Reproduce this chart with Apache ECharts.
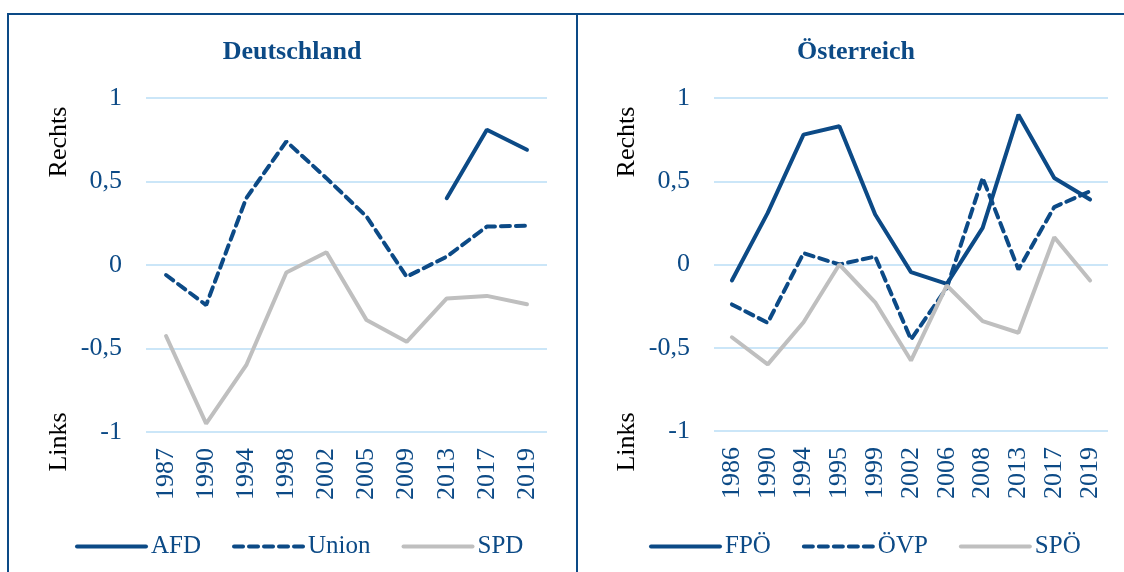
<!DOCTYPE html>
<html>
<head>
<meta charset="utf-8">
<script src="https://cdn.jsdelivr.net/npm/echarts@6/dist/echarts.min.js"></script>
<style>html,body{margin:0;padding:0;background:#fff}#c{width:1124px;height:572px}</style>
</head>
<body>
<div id="c"></div>
<script>
// Deutschland
const deYears = ['1987','1990','1994','1998','2002','2005','2009','2013','2017','2019'];
const deAFD   = [null, null, null, null, null, null, null, 0.40, 0.81, 0.69];
const deUnion = [-0.06, -0.24, 0.40, 0.74, 0.52, 0.29, -0.07, 0.05, 0.23, 0.235];
const deSPD   = [-0.425, -0.95, -0.60, -0.045, 0.076, -0.33, -0.46, -0.20, -0.185, -0.235];
// Österreich
const atYears = ['1986','1990','1994','1995','1999','2002','2006','2008','2013','2017','2019'];
const atFPO = [-0.096, 0.31, 0.78, 0.83, 0.30, -0.046, -0.116, 0.22, 0.90, 0.52, 0.39];
const atOVP = [-0.24, -0.35, 0.068, 0.0, 0.048, -0.45, -0.14, 0.52, -0.03, 0.345, 0.44];
const atSPO = [-0.437, -0.60, -0.347, 0.0, -0.227, -0.577, -0.126, -0.34, -0.41, 0.164, -0.096];
const yTicks = [-1, -0.5, 0, 0.5, 1];

const BLUE = '#0C4A86';
const GRAY = '#BFBFBF';
const GRID = '#CBE6F8';
const FONT = 'Liberation Serif';

const chart = echarts.init(document.getElementById('c'));

function xAxis(idx, data) {
  return {
    type: 'category', gridIndex: idx, data: data, boundaryGap: true,
    axisLine: {show: false}, axisTick: {show: false},
    axisLabel: {rotate: 90, color: BLUE, fontFamily: FONT, fontSize: 26, margin: 16, interval: 0}
  };
}
function yAxis(idx) {
  return {
    type: 'value', gridIndex: idx, min: -1, max: 1, interval: 0.5,
    axisLine: {show: false}, axisTick: {show: false},
    splitLine: {lineStyle: {color: GRID, width: 2}},
    axisLabel: {color: BLUE, fontFamily: FONT, fontSize: 26, margin: 24,
      formatter: v => (yTicks.indexOf(v) >= 0 ? String(v).replace('.', ',') : '')}
  };
}
function line(name, data, idx, color, dashed) {
  return {
    name: name, type: 'line', data: data, xAxisIndex: idx, yAxisIndex: idx,
    symbol: 'none', connectNulls: false, smooth: false,
    lineStyle: {color: color, width: 4, type: dashed ? [9, 6] : 'solid', cap: 'round'},
    itemStyle: {color: color}, emphasis: {disabled: true}
  };
}
function vtext(x, y, t) {
  return {type: 'text', x: x, y: y, rotation: Math.PI / 2,
    style: {text: t, fill: '#000', font: '26px "Liberation Serif"', align: 'center', verticalAlign: 'middle'}};
}
function hline(x1, y1, x2, y2) {
  return {type: 'line', shape: {x1: x1, y1: y1, x2: x2, y2: y2}, style: {stroke: BLUE, lineWidth: 2}};
}
const legendBase = {
  orient: 'horizontal', itemWidth: 69, itemHeight: 14, itemGap: 31,
  itemStyle: {opacity: 0},
  lineStyle: {width: 4, cap: 'round'},
  textStyle: {color: BLUE, fontFamily: FONT, fontSize: 25},
  top: 529
};

chart.setOption({
  animation: false,
  title: [
    {text: 'Deutschland', left: 287, top: 34, textAlign: 'center',
      textStyle: {color: BLUE, fontFamily: FONT, fontSize: 26, fontWeight: 'bold'}},
    {text: 'Österreich', left: 851, top: 34, textAlign: 'center',
      textStyle: {color: BLUE, fontFamily: FONT, fontSize: 26, fontWeight: 'bold'}}
  ],
  grid: [
    {left: 146, top: 98, width: 401, height: 334},
    {left: 714, top: 98, width: 394, height: 333}
  ],
  xAxis: [xAxis(0, deYears), xAxis(1, atYears)],
  yAxis: [yAxis(0), yAxis(1)],
  legend: [
    Object.assign({}, legendBase, {left: 70, data: ['AFD', 'Union', 'SPD']}),
    Object.assign({}, legendBase, {left: 644, data: ['FPÖ', 'ÖVP', 'SPÖ']})
  ],
  series: [
    line('AFD', deAFD, 0, BLUE, false),
    line('Union', deUnion, 0, BLUE, true),
    line('SPD', deSPD, 0, GRAY, false),
    line('FPÖ', atFPO, 1, BLUE, false),
    line('ÖVP', atOVP, 1, BLUE, true),
    line('SPÖ', atSPO, 1, GRAY, false)
  ],
  graphic: [
    hline(7, 14, 1124, 14),
    hline(8, 14, 8, 572),
    hline(577, 14, 577, 572),
    vtext(59, 142, 'Rechts'),
    vtext(59, 442, 'Links'),
    vtext(627, 142, 'Rechts'),
    vtext(627, 442, 'Links')
  ]
});
</script>
</body>
</html>
